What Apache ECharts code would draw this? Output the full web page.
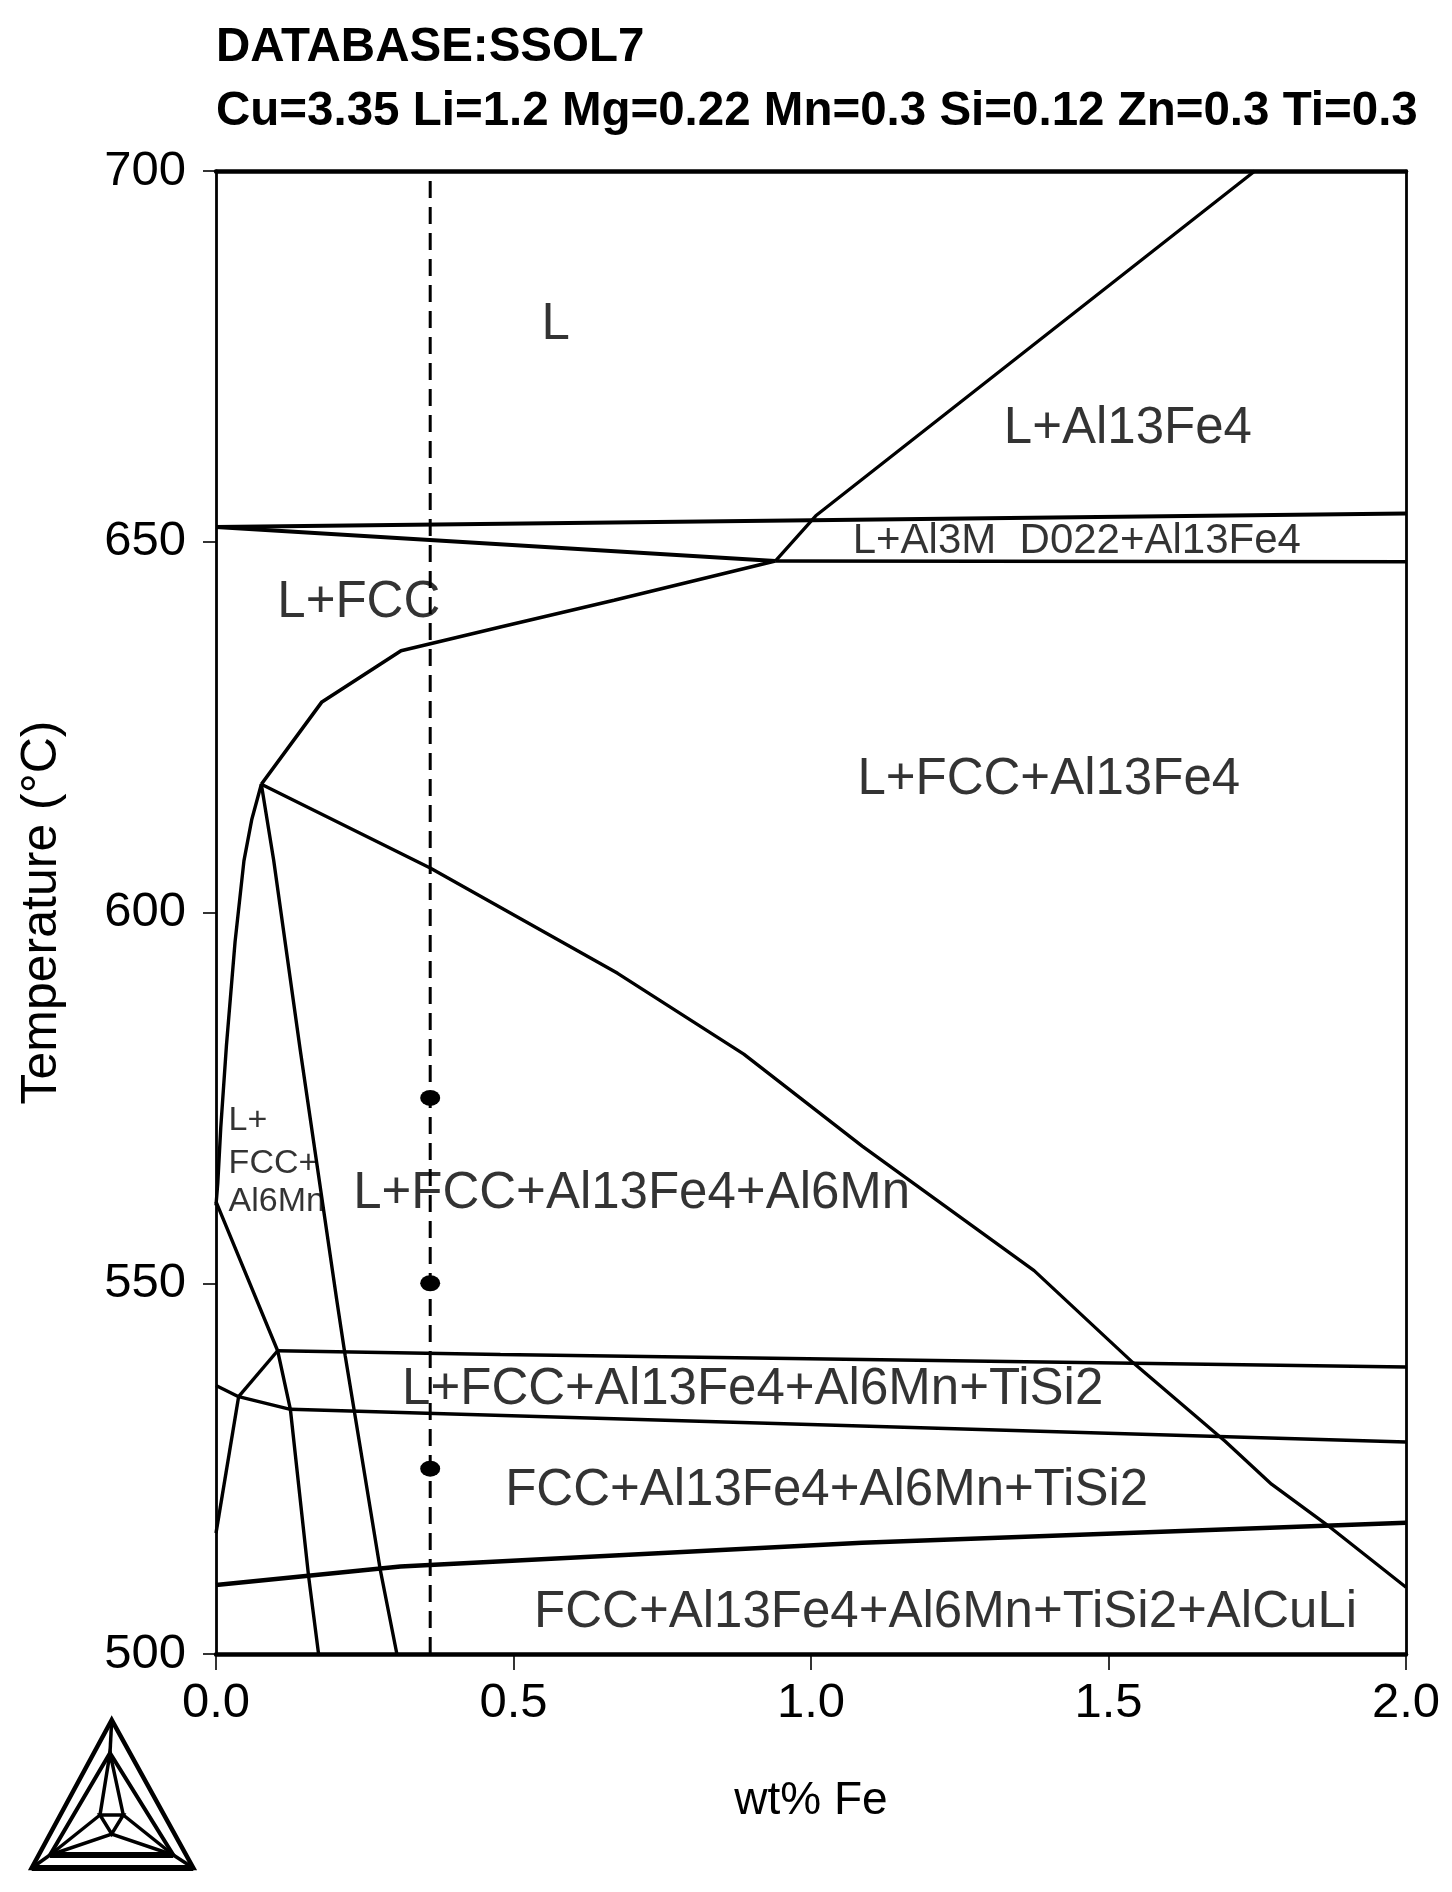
<!DOCTYPE html>
<html><head><meta charset="utf-8">
<script src="https://cdn.jsdelivr.net/npm/echarts/dist/echarts.min.js"></script>
<style>html,body{margin:0;padding:0;background:#fff}#c{width:1452px;height:1892px}</style>
</head><body><div id="c"></div>
<script>
// ---- text ----
const titleLines = ['DATABASE:SSOL7', 'Cu=3.35 Li=1.2 Mg=0.22 Mn=0.3 Si=0.12 Zn=0.3 Ti=0.3'];
const xAxisName = 'wt% Fe';
const yAxisName = 'Temperature (°C)';
const xTicks = [0, 0.5, 1.0, 1.5, 2.0];
const yTicks = [500, 550, 600, 650, 700];

// ---- phase boundaries [wt% Fe, T °C] ----
const liqAl13Fe4 = [[0.94,647.4],[1.008,653.5],[1.746,700]];
const upper653 = [[0,652.0],[2.0,653.8]];
const slope650 = [[0,652.0],[0.94,647.4]];
const lower647 = [[0.94,647.4],[2.0,647.3]];
const liqFCC = [[0.0762,617.3],[0.178,628.4],[0.311,635.3],[0.478,638.5],[0.669,642.1],[0.94,647.4]];
const fccAl6MnLeft = [[0.0762,617.3],[0.06,612.5],[0.047,607.0],[0.032,596.0],[0.0175,582.0],[0.008,571.0],[0.003,563.5],[0,560.5]];
const al13Fe4Al6Mn = [[0.0762,617.3],[0.36,606.0],[0.675,591.8],[0.887,580.9],[1.086,568.5],[1.375,551.7],[1.541,539.3],[1.696,528.7],[1.774,522.9],[1.874,517.0],[2.0,509.0]];
const al6MnSteep = [[0.0762,617.3],[0.097,607.0],[0.1417,581.4],[0.203,547.7],[0.217,540.3],[0.234,532.0],[0.276,511.4],[0.304,500]];
const tiSi2Left = [[0,561],[0.1036,540.9],[0.125,533.0],[0.1556,510.5],[0.1724,500]];
const tiSi2Upper = [[0.1036,540.9],[0.478,540.4],[2.0,538.7]];
const tiSi2Diag = [[0.1036,540.9],[0.038,534.7]];
const tiSi2LeftUp = [[0.038,534.7],[0,536.2]];
const tiSi2LeftDown = [[0.038,534.7],[0,516.3]];
const tiSi2Lower = [[0.038,534.7],[0.125,533.0],[2.0,528.6]];
const alCuLi = [[0,509.3],[0.31,511.8],[1.086,515.0],[2.0,517.7]];

// ---- alloy section ----
const alloyFe = 0.36;
const dotTemps = [575, 550, 525];

// ---- region labels (anchor = left edge, vertical middle) ----
const regionNames = ['L','L+Al13Fe4','L+Al3M  D022+Al13Fe4','L+FCC','L+FCC+Al13Fe4','L+FCC+Al13Fe4+Al6Mn','L+FCC+Al13Fe4+Al6Mn+TiSi2','FCC+Al13Fe4+Al6Mn+TiSi2','FCC+Al13Fe4+Al6Mn+TiSi2+AlCuLi','L+','FCC+','Al6Mn'];
const regionX = [0.547, 1.324, 1.07, 0.103, 1.078, 0.2305, 0.3128, 0.486, 0.5346, 0.0212, 0.0212, 0.0212];
const regionT = [679.3, 665.2, 650.0, 641.8, 617.9, 562.1, 535.6, 522.05, 505.6, 571.9, 566.2, 561.0];
const regionSize = [51, 51, 42, 51, 51, 51, 51, 51, 51, 34, 34, 34];

const FONT = '"Liberation Sans", Arial, Helvetica, sans-serif';
const boundaryList = [
  [liqAl13Fe4, 3.3], [upper653, 4], [slope650, 4], [lower647, 3.5], [liqFCC, 3.6],
  [fccAl6MnLeft, 3.4], [al13Fe4Al6Mn, 3.3], [al6MnSteep, 3.4], [tiSi2Left, 3.4], [tiSi2Upper, 3.4],
  [tiSi2Diag, 3.4], [tiSi2LeftUp, 3.4], [tiSi2LeftDown, 3.4], [tiSi2Lower, 3.4], [alCuLi, 4.6]
];

const chart = echarts.init(document.getElementById('c'), null, {renderer: 'canvas'});
const xMin = xTicks[0], xMax = xTicks[xTicks.length - 1];
const yMin = yTicks[0], yMax = yTicks[yTicks.length - 1];

const series = boundaryList.map(([d, w]) => ({
  type: 'line', data: d, symbol: 'none', silent: true, animation: false,
  lineStyle: {color: '#000', width: w}, z: 3
}));
series.push({
  type: 'line', data: [[alloyFe, yMin], [alloyFe, yMax]], symbol: 'none', silent: true, animation: false,
  lineStyle: {color: '#000', width: 3, type: [17, 9]}, z: 3
});
series.push({
  type: 'scatter', data: dotTemps.map(t => [alloyFe, t]), symbol: 'circle', symbolSize: [20, 16],
  itemStyle: {color: '#000', opacity: 1}, silent: true, animation: false, z: 4
});
series.push({
  type: 'scatter', symbolSize: 0, silent: true, animation: false, z: 5,
  data: regionNames.map((n, i) => ({
    value: [regionX[i], regionT[i]],
    label: {show: true, formatter: n, position: 'right', distance: 0, color: '#000',
      textBorderWidth: 0, fontFamily: FONT, fontSize: regionSize[i]}
  }))
});

const axisCommon = {
  type: 'value', splitLine: {show: false},
};

chart.setOption({
  backgroundColor: '#fff',
  animation: false,
  grid: {left: 216, right: 46, top: 171, bottom: 238, containLabel: false, outerBoundsMode: 'none',
    show: false},
  xAxis: [
    Object.assign({}, axisCommon, {
      min: xMin, max: xMax, interval: 0.5, position: 'bottom',
      name: xAxisName, nameLocation: 'middle', nameGap: 147,
      nameTextStyle: {fontFamily: FONT, fontSize: 46, color: '#000', verticalAlign: 'middle'},
      axisLine: {show: true, onZero: false, lineStyle: {color: '#000', width: 4.5}},
      axisTick: {show: true, length: 16, lineStyle: {color: '#000', width: 1.6}},
      axisLabel: {show: true, margin: 49, verticalAlign: 'middle', fontFamily: FONT, fontSize: 49, color: '#000',
        formatter: v => v.toFixed(1)}
    }),
    Object.assign({}, axisCommon, {
      min: xMin, max: xMax, interval: 0.5, position: 'top',
      axisLine: {show: true, onZero: false, lineStyle: {color: '#000', width: 4.5}},
      axisTick: {show: false}, axisLabel: {show: false}
    })
  ],
  yAxis: [
    Object.assign({}, axisCommon, {
      min: yMin, max: yMax, interval: 50, position: 'left',
      name: yAxisName, nameLocation: 'middle', nameGap: 174, nameRotate: 90,
      nameTextStyle: {fontFamily: FONT, fontSize: 50, color: '#000', verticalAlign: 'middle', align: 'center'},
      axisLine: {show: true, onZero: false, lineStyle: {color: '#000', width: 2.8}},
      axisTick: {show: true, length: 13, lineStyle: {color: '#000', width: 1.6}},
      axisLabel: {show: true, margin: 30, fontFamily: FONT, fontSize: 49, color: '#000'}
    }),
    Object.assign({}, axisCommon, {
      min: yMin, max: yMax, interval: 50, position: 'right',
      axisLine: {show: true, onZero: false, lineStyle: {color: '#000', width: 2.8}},
      axisTick: {show: false}, axisLabel: {show: false}
    })
  ],
  series: series,
  graphic: [
    {type: 'text', x: 216, y: 48, silent: true,
      style: {text: titleLines[0], fill: '#000', font: 'bold 47.5px ' + FONT, align: 'left', verticalAlign: 'middle'}},
    {type: 'text', x: 216, y: 112, silent: true,
      style: {text: titleLines[1], fill: '#000', font: 'bold 47.5px ' + FONT, align: 'left', verticalAlign: 'middle'}},
    {type: 'group', silent: true, children: [
      {type: 'polygon', shape: {points: [[111.7,1720],[31.7,1868],[193.3,1868]]}, style: {stroke: '#000', fill: null, lineWidth: 4.5, lineJoin: 'miter'}},
      {type: 'polygon', shape: {points: [[110,1753],[50,1855],[173.3,1855]]}, style: {stroke: '#000', fill: null, lineWidth: 4, lineJoin: 'miter'}},
      {type: 'polygon', shape: {points: [[100,1815],[123.3,1815],[111.7,1834]]}, style: {stroke: '#000', fill: null, lineWidth: 3.5}},
      {type: 'polyline', shape: {points: [[111.7,1720],[110,1753]]}, style: {stroke: '#000', lineWidth: 3.5}},
      {type: 'polyline', shape: {points: [[31.7,1868],[50,1855]]}, style: {stroke: '#000', lineWidth: 3.5}},
      {type: 'polyline', shape: {points: [[193.3,1868],[173.3,1855]]}, style: {stroke: '#000', lineWidth: 3.5}},
      {type: 'polyline', shape: {points: [[100,1815],[110,1753],[123.3,1815]]}, style: {stroke: '#000', fill: null, lineWidth: 3.5}},
      {type: 'polyline', shape: {points: [[100,1815],[50,1855]]}, style: {stroke: '#000', lineWidth: 3.5}},
      {type: 'polyline', shape: {points: [[123.3,1815],[173.3,1855]]}, style: {stroke: '#000', lineWidth: 3.5}},
      {type: 'polyline', shape: {points: [[50,1855],[111.7,1834],[173.3,1855]]}, style: {stroke: '#000', fill: null, lineWidth: 3.5}},
      {type: 'polyline', shape: {points: [[50,1855],[173.3,1855]]}, style: {stroke: '#000', lineWidth: 6}},
      {type: 'polyline', shape: {points: [[31.7,1868],[193.3,1868]]}, style: {stroke: '#000', lineWidth: 6}}
    ]}
  ]
});
</script>
</body></html>
